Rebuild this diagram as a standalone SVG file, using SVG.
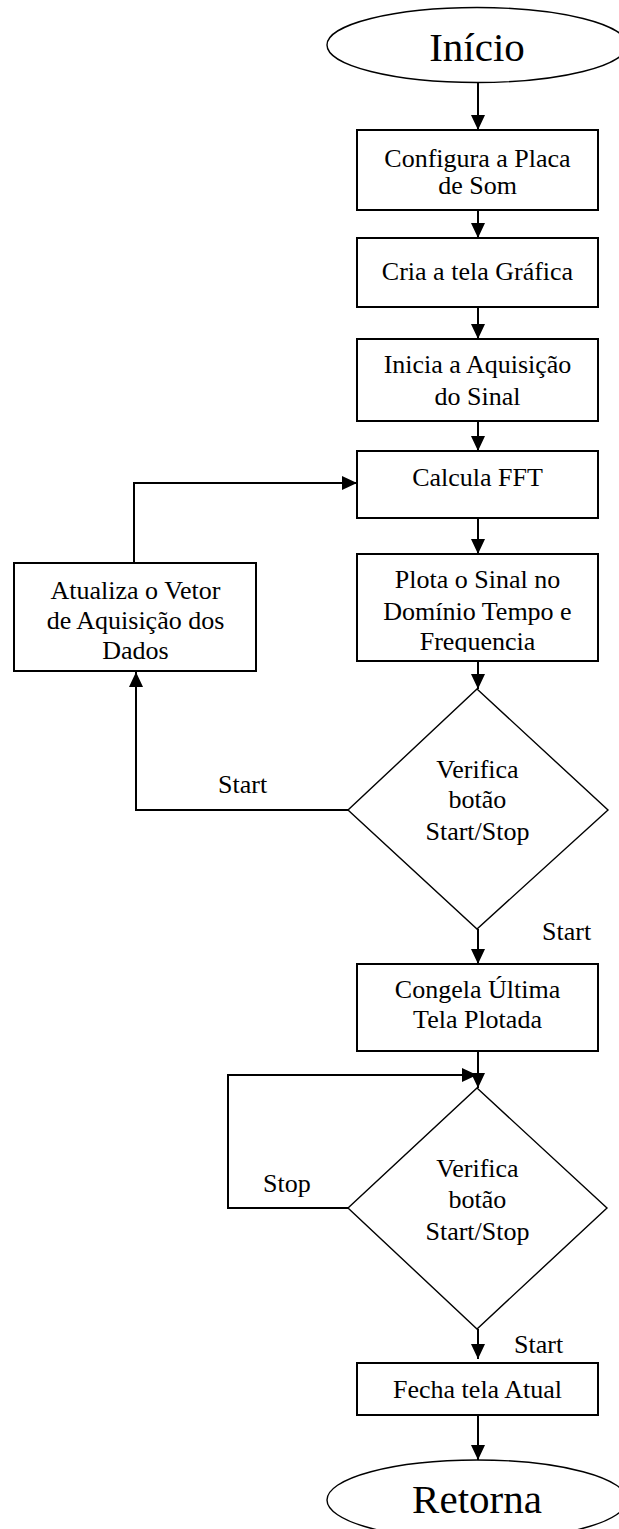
<svg xmlns="http://www.w3.org/2000/svg" width="619" height="1529" viewBox="0 0 619 1529">
<style>
.box{fill:#fff;stroke:#000;stroke-width:2}
.dia{fill:#fff;stroke:#000;stroke-width:1.4}
.ell{fill:#fff;stroke:#000;stroke-width:1.4}
.t{font-family:"Liberation Serif","Times New Roman",serif;font-size:26px;fill:#000;text-anchor:middle}
.tl{font-family:"Liberation Serif","Times New Roman",serif;font-size:26px;fill:#000}
.big{font-family:"Liberation Serif","Times New Roman",serif;font-size:41px;fill:#000;text-anchor:middle}
.c{fill:none;stroke:#000;stroke-width:2;marker-end:url(#ah)}
</style>
<defs>
<marker id="ah" viewBox="0 0 15 14" refX="15" refY="7" markerWidth="15" markerHeight="14" markerUnits="userSpaceOnUse" orient="auto"><path d="M0,0 L15,7 L0,14 z" fill="#000"/></marker>
<clipPath id="clipPlota"><rect x="357" y="554" width="241" height="98"/></clipPath>
</defs>
<rect width="619" height="1529" fill="#fff"/>
<g id="connectors">
<path class="c" d="M478,82 V130"/>
<path class="c" d="M478,210 V238"/>
<path class="c" d="M478,307 V339"/>
<path class="c" d="M478,421 V451"/>
<path class="c" d="M478,518 V554"/>
<path class="c" d="M478,661 V689"/>
<path class="c" d="M348,810 H136 V672"/>
<path class="c" d="M134,563 V483 H357"/>
<path class="c" d="M478,929 V964"/>
<path class="c" d="M478,1051 V1088"/>
<path class="c" d="M348,1208 H228 V1075 H477"/>
<path class="c" d="M478,1329 V1359"/>
<path class="c" d="M478,1415 V1460"/>
</g>
<g id="inicio">
<ellipse class="ell" cx="477" cy="45" rx="150" ry="37.5"/>
<text class="big" x="477" y="61">Início</text>
</g>
<g id="configura">
<rect class="box" x="357" y="130" width="241" height="80"/>
<text class="t" x="477.5" y="167">Configura a Placa</text>
<text class="t" x="477.5" y="194">de Som</text>
</g>
<g id="cria">
<rect class="box" x="357" y="238" width="241" height="69"/>
<text class="t" x="477.5" y="280">Cria a tela Gráfica</text>
</g>
<g id="inicia">
<rect class="box" x="357" y="339" width="241" height="82"/>
<text class="t" x="477.5" y="373">Inicia a Aquisição</text>
<text class="t" x="477.5" y="405">do Sinal</text>
</g>
<g id="calcula">
<rect class="box" x="357" y="451" width="241" height="67"/>
<text class="t" x="477.5" y="486">Calcula FFT</text>
</g>
<g id="plota">
<rect class="box" x="357" y="554" width="241" height="107"/>
<g clip-path="url(#clipPlota)">
<text class="t" x="477.5" y="588">Plota o Sinal no</text>
<text class="t" x="477.5" y="620">Domínio Tempo e</text>
<text class="t" x="477.5" y="650">Frequencia</text>
</g>
</g>
<g id="atualiza">
<rect class="box" x="14" y="563" width="242" height="108"/>
<text class="t" x="135.5" y="599">Atualiza o Vetor</text>
<text class="t" x="135.5" y="629">de Aquisição dos</text>
<text class="t" x="135.5" y="659">Dados</text>
</g>
<g id="verifica1">
<polygon class="dia" points="477,689 608,810 477,929 348,810"/>
<text class="t" x="477.5" y="778">Verifica</text>
<text class="t" x="477.5" y="808">botão</text>
<text class="t" x="477.5" y="840">Start/Stop</text>
</g>
<g id="label-start1"><text class="tl" x="218" y="793">Start</text></g>
<g id="label-start2"><text class="tl" x="542" y="940">Start</text></g>
<g id="congela">
<rect class="box" x="357" y="964" width="241" height="87"/>
<text class="t" x="477.5" y="998">Congela Última</text>
<text class="t" x="477.5" y="1028">Tela Plotada</text>
</g>
<g id="verifica2">
<polygon class="dia" points="477,1088 607,1208 477,1329 348,1208"/>
<text class="t" x="477.5" y="1177">Verifica</text>
<text class="t" x="477.5" y="1208">botão</text>
<text class="t" x="477.5" y="1240">Start/Stop</text>
</g>
<g id="label-stop"><text class="tl" x="263" y="1192">Stop</text></g>
<g id="label-start3"><text class="tl" x="514" y="1353">Start</text></g>
<g id="fecha">
<rect class="box" x="357" y="1363" width="241" height="52"/>
<text class="t" x="477.5" y="1398">Fecha tela Atual</text>
</g>
<g id="retorna">
<ellipse class="ell" cx="477" cy="1500" rx="150" ry="40"/>
<text class="big" x="477" y="1513">Retorna</text>
</g>
</svg>
